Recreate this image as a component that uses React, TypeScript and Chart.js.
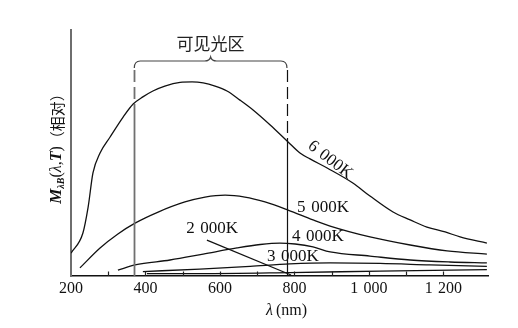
import React, { useEffect, useRef } from 'react';
import { Chart, registerables } from 'chart.js';

Chart.register(...registerables);

// ---- data (wavelength in nm, relative exitance) ----
const wl6000 = [200, 232, 246, 259, 278, 305, 340, 367, 393, 420, 452, 493, 525, 555, 587, 619, 654, 689, 735, 783, 815, 842, 888, 957, 1003, 1065, 1111, 1156, 1205, 1245, 1317];
const m6000 = [9.3, 17.5, 28, 41.9, 50, 56.5, 64.6, 69.9, 72.8, 75.2, 77.2, 78.7, 78.9, 78.5, 77.2, 75.2, 71.5, 67.5, 61.4, 54.5, 50, 47.6, 43.9, 37.8, 32.5, 26, 22.8, 19.9, 17.9, 15.9, 13.4];

const wl5000 = [224, 278, 326, 372, 434, 506, 560, 614, 667, 721, 783, 850, 896, 1003, 1111, 1210, 1317];
const m5000 = [3.3, 11.4, 17.1, 21.5, 26.0, 30.1, 32.1, 32.9, 32.1, 30.1, 26.8, 22.8, 20.3, 15.9, 12.6, 10.2, 8.9];

const wl4000 = [326, 372, 466, 555, 646, 708, 761, 802, 850, 896, 1003, 1111, 1218, 1317];
const m4000 = [2.4, 4.5, 6.5, 8.9, 11.4, 12.8, 13.4, 13.0, 11.8, 9.8, 8.1, 6.5, 5.7, 5.3];

const wl3000 = [393, 546, 681, 788, 896, 1030, 1164, 1317];
const m3000 = [1.8, 2.8, 3.9, 4.9, 5.3, 5.1, 4.5, 3.9];

const wl2000 = [404, 546, 788, 1030, 1317];
const m2000 = [1.0, 1.0, 1.4, 2.0, 2.6];

const seriesLabels = ['6\u2004000K', '5\u2004000K', '4\u2004000K', '3\u2004000K', '2\u2004000K'];
const visibleRange = [370, 780];
const visibleLabel = '可见光区';
const xTickLabels = [200, 400, 600, 800, 1000, 1200];

const SERIF = '"Liberation Serif", "Times New Roman", serif';

function fmt(v: number): string {
  if (v >= 1000) return Math.floor(v / 1000) + '\u2004' + String(v % 1000).padStart(3, '0');
  return String(v);
}

export default function App() {
  const ref = useRef<HTMLCanvasElement>(null);

  useEffect(() => {
    const mk = (xs: number[], ys: number[]) => xs.map((x, i) => ({ x, y: ys[i] }));
    const series = [
      mk(wl6000, m6000),
      mk(wl5000, m5000),
      mk(wl4000, m4000),
      mk(wl3000, m3000),
      mk(wl2000, m2000),
    ];

    // label anchors (nm, value) + rotation in degrees
    const labelAnchors = [
      { x: 896, y: 47.2, rot: 38 },
      { x: 877, y: 28.0, rot: 0 },
      { x: 863, y: 15.9, rot: 0 },
      { x: 796, y: 8.1, rot: 0 },
      { x: 579, y: 19.1, rot: 0 },
    ];

    const overlay = {
      id: 'overlay',
      afterDraw(chart: any) {
        const ctx = chart.ctx as CanvasRenderingContext2D;
        const xs = chart.scales.x;
        const ys = chart.scales.y;
        const area = chart.chartArea;
        ctx.save();

        // inward tick marks
        ctx.strokeStyle = '#222';
        ctx.lineWidth = 1.2;
        for (let v = 300; v <= 1200; v += 100) {
          const px = Math.round(xs.getPixelForValue(v)) + 0.5;
          ctx.beginPath();
          ctx.moveTo(px, area.bottom);
          ctx.lineTo(px, area.bottom - 4.5);
          ctx.stroke();
        }

        // visible-range bracket
        const xl = xs.getPixelForValue(visibleRange[0]);
        const xr = xs.getPixelForValue(visibleRange[1]);
        const xm = (xl + xr) / 2;
        const yb = ys.getPixelForValue(87.4);
        ctx.strokeStyle = '#444';
        ctx.lineWidth = 1.2;
        ctx.beginPath();
        ctx.moveTo(xl, yb + 7);
        ctx.quadraticCurveTo(xl, yb, xl + 6, yb);
        ctx.lineTo(xm - 6, yb);
        ctx.quadraticCurveTo(xm - 1, yb, xm, yb - 4);
        ctx.quadraticCurveTo(xm + 1, yb, xm + 6, yb);
        ctx.lineTo(xr - 6, yb);
        ctx.quadraticCurveTo(xr, yb, xr, yb + 7);
        ctx.stroke();

        ctx.fillStyle = '#222';
        ctx.font = '17px "Noto Sans CJK SC", sans-serif';
        ctx.textAlign = 'center';
        ctx.textBaseline = 'middle';
        ctx.fillText(visibleLabel, xm, yb - 17);

        // vertical boundary lines
        const drawV = (px: number, color: string, w: number, dashTo: number) => {
          ctx.strokeStyle = color;
          ctx.lineWidth = w;
          const yDash = ys.getPixelForValue(dashTo);
          ctx.setLineDash([12, 5]);
          ctx.beginPath();
          ctx.moveTo(px, yb + 9);
          ctx.lineTo(px, yDash);
          ctx.stroke();
          ctx.setLineDash([]);
          ctx.beginPath();
          ctx.moveTo(px, yDash);
          ctx.lineTo(px, area.bottom);
          ctx.stroke();
        };
        drawV(Math.round(xl) + 0.5, '#707070', 1.8, 67.5);
        drawV(Math.round(xr) + 0.5, '#111', 1.2, 55.3);

        // leader line for 2000K
        ctx.strokeStyle = '#111';
        ctx.lineWidth = 1.2;
        ctx.beginPath();
        ctx.moveTo(xs.getPixelForValue(565), ys.getPixelForValue(14.6));
        ctx.lineTo(xs.getPixelForValue(791), ys.getPixelForValue(0.4));
        ctx.stroke();

        // series labels
        ctx.fillStyle = '#111';
        ctx.font = '17px ' + SERIF;
        seriesLabels.forEach((t, i) => {
          const a = labelAnchors[i];
          ctx.save();
          ctx.translate(xs.getPixelForValue(a.x), ys.getPixelForValue(a.y));
          ctx.rotate((a.rot * Math.PI) / 180);
          ctx.textAlign = 'center';
          ctx.textBaseline = 'middle';
          ctx.fillText(t, 0, 0);
          ctx.restore();
        });

        // x title
        ctx.textBaseline = 'middle';
        ctx.textAlign = 'left';
        const xt1 = 'λ';
        const xt2 = '\u2009(nm)';
        ctx.font = 'italic 16px ' + SERIF;
        const w1 = ctx.measureText(xt1).width;
        ctx.font = '16px ' + SERIF;
        const w2 = ctx.measureText(xt2).width;
        const cx = (area.left + area.right) / 2 + 7;
        let sx = cx - (w1 + w2) / 2;
        ctx.font = 'italic 16px ' + SERIF;
        ctx.fillText(xt1, sx, 311);
        ctx.font = '16px ' + SERIF;
        ctx.fillText(xt2, sx + w1, 311);

        // y title (rotated, mixed fonts)
        const segs = [
          { t: 'M', f: 'italic bold 17px ' + SERIF, dy: 0 },
          { t: 'λB', f: 'italic bold 10px ' + SERIF, dy: 4 },
          { t: '(', f: '16px ' + SERIF, dy: 0 },
          { t: 'λ', f: 'italic 16px ' + SERIF, dy: 0 },
          { t: ',', f: '16px ' + SERIF, dy: 0 },
          { t: 'T', f: 'italic bold 16px ' + SERIF, dy: 0 },
          { t: ')', f: '16px ' + SERIF, dy: 0 },
          { t: '（相对）', f: '15px "Noto Sans CJK SC", sans-serif', dy: 0 },
        ];
        let total = 0;
        const widths = segs.map((s) => {
          ctx.font = s.f;
          const w = ctx.measureText(s.t).width;
          total += w;
          return w;
        });
        ctx.translate(57, 145);
        ctx.rotate(-Math.PI / 2);
        let px = -total / 2;
        segs.forEach((s, i) => {
          ctx.font = s.f;
          ctx.fillText(s.t, px, s.dy);
          px += widths[i];
        });

        ctx.restore();
      },
    };

    const chart = new Chart(ref.current as HTMLCanvasElement, {
      type: 'line',
      data: {
        datasets: series.map((d, i) => ({
          label: seriesLabels[i],
          data: d,
          borderColor: '#111',
          borderWidth: 1.3,
          pointRadius: 0,
          fill: false,
          cubicInterpolationMode: 'monotone' as const,
        })),
      },
      options: {
        animation: false,
        responsive: false,
        maintainAspectRatio: false,
        layout: { padding: { left: 71, top: 30, right: 30, bottom: 0 } },
        plugins: { legend: { display: false }, tooltip: { enabled: false } },
        scales: {
          x: {
            type: 'linear',
            min: 200,
            max: 1320,
            afterFit: (s: any) => {
              s.height = 52;
            },
            grid: { display: false, drawTicks: false, tickLength: 0 },
            border: { display: true, color: '#111', width: 1.6 },
            ticks: {
              stepSize: 100,
              autoSkip: false,
              maxRotation: 0,
              padding: 3,
              color: '#111',
              font: { family: SERIF, size: 16 },
              callback: (v: any) => (xTickLabels.includes(Number(v)) ? fmt(Number(v)) : ''),
            },
          },
          y: {
            min: 0,
            max: 100,
            afterFit: (s: any) => {
              s.width = 0;
            },
            grid: { display: false },
            border: { display: true, color: '#6e6e6e', width: 2 },
            ticks: { display: false },
          },
        },
      } as any,
      plugins: [overlay],
    });
    return () => chart.destroy();
  }, []);

  return (
    <div style={{ position: 'fixed', left: 0, top: 0, width: 518, height: 328, background: '#fff' }}>
      <canvas ref={ref} width={518} height={328} style={{ display: 'block', width: 518, height: 328 }} />
    </div>
  );
}
